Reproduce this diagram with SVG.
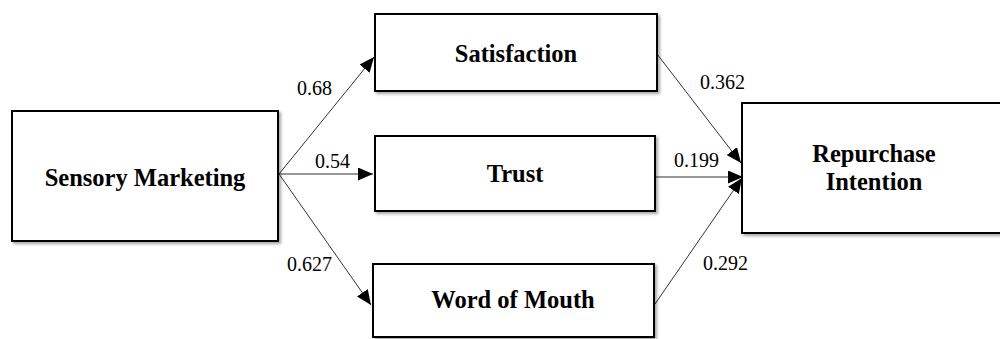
<svg xmlns="http://www.w3.org/2000/svg" width="1000" height="339" viewBox="0 0 1000 339">
<style>
.box{fill:#fff;stroke:#000;stroke-width:2;filter:url(#sh)}
.lbl{font-family:'Liberation Serif','Times New Roman',Times,'DejaVu Serif',serif;font-weight:bold;font-size:24.5px;fill:#000;text-anchor:middle}
.num{font-family:'Liberation Serif','Times New Roman',Times,'DejaVu Serif',serif;font-size:20px;fill:#000}
.edge{stroke:#333;stroke-width:1;fill:none;marker-end:url(#ah)}
</style>
<defs>
<filter id="sh" x="-5%" y="-5%" width="115%" height="120%">
<feDropShadow dx="2" dy="2" stdDeviation="1.5" flood-color="#000" flood-opacity="0.35"/>
</filter>
<marker id="ah" markerUnits="userSpaceOnUse" markerWidth="16" markerHeight="14" refX="15" refY="6.5" orient="auto">
<path d="M0,0 L15,6.5 L0,13 z" fill="#000"/>
</marker>
</defs>
<rect width="1000" height="339" fill="#fff"/>
<g id="connectors">
<line class="edge" x1="279" y1="174" x2="374" y2="57"/>
<line class="edge" x1="279" y1="174" x2="373" y2="174"/>
<line class="edge" x1="279" y1="174" x2="371" y2="305"/>
<line class="edge" x1="657" y1="54" x2="741" y2="163"/>
<line class="edge" x1="656" y1="177" x2="743" y2="177"/>
<line class="edge" x1="655" y1="304" x2="742" y2="178"/>
<text class="num" font-family="Liberation Serif, serif" x="297" y="95">0.68</text>
<text class="num" font-family="Liberation Serif, serif" x="315" y="168">0.54</text>
<text class="num" font-family="Liberation Serif, serif" x="287" y="271">0.627</text>
<text class="num" font-family="Liberation Serif, serif" x="700" y="89">0.362</text>
<text class="num" font-family="Liberation Serif, serif" x="674" y="167">0.199</text>
<text class="num" font-family="Liberation Serif, serif" x="703" y="270">0.292</text>
</g>
<g id="sensory">
<rect class="box" x="12" y="111" width="266" height="130"/>
<text class="lbl" font-family="Liberation Serif, serif" x="145" y="186">Sensory Marketing</text>
</g>
<g id="satisfaction">
<rect class="box" x="375" y="14" width="282" height="77"/>
<text class="lbl" font-family="Liberation Serif, serif" x="516" y="62">Satisfaction</text>
</g>
<g id="trust">
<rect class="box" x="375" y="136" width="280" height="75"/>
<text class="lbl" font-family="Liberation Serif, serif" x="515" y="182">Trust</text>
</g>
<g id="wom">
<rect class="box" x="373" y="264" width="281" height="73"/>
<text class="lbl" font-family="Liberation Serif, serif" x="513" y="308">Word of Mouth</text>
</g>
<g id="repurchase">
<rect class="box" x="742" y="103" width="264" height="130"/>
<text class="lbl" font-family="Liberation Serif, serif" x="874" y="162">Repurchase</text>
<text class="lbl" font-family="Liberation Serif, serif" x="874" y="190">Intention</text>
</g>
</svg>
